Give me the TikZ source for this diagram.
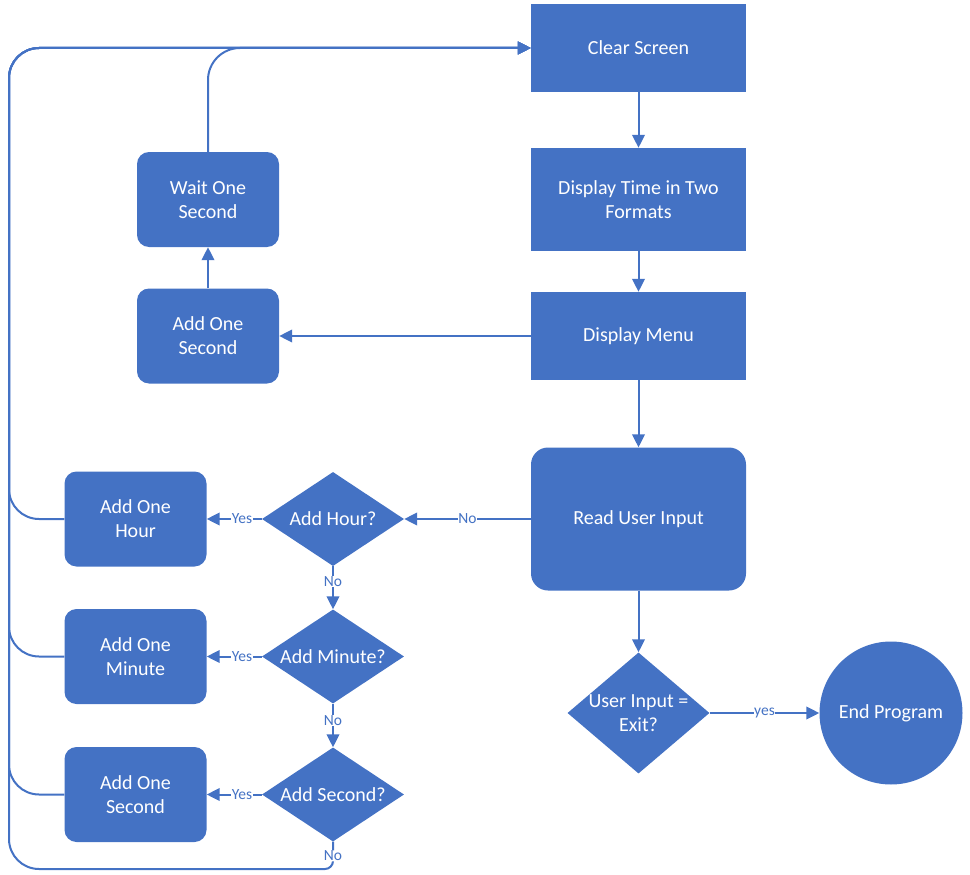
\documentclass[tikz,border=0pt]{standalone}
\usepackage{fontspec}
\setmainfont{Carlito}
\usetikzlibrary{shapes.geometric,arrows.meta}
\definecolor{ob}{HTML}{4472C4}
\begin{document}
\begin{tikzpicture}[x=1pt,y=-1pt,
  txt/.style={text=white, font=\fontsize{20}{24}\selectfont, align=center, inner sep=0pt},
  sbox/.style={txt, fill=ob, minimum width=215pt},
  rbox/.style={txt, fill=ob, rounded corners=12pt, minimum width=142pt, minimum height=95pt},
  dia/.style={diamond, fill=ob, inner sep=0pt, minimum width=142pt, minimum height=94pt},
  conn/.style={draw=ob, line width=2pt, -{Triangle[length=13pt,width=12.5pt]}},
  plain/.style={draw=ob, line width=2pt},
  lab/.style={fill=white, text=ob, font=\fontsize{15.5}{17}\selectfont, inner sep=0.5pt}
]
\useasboundingbox (0,0) rectangle (970,875);

% right column
\node[sbox, minimum height=88pt] (clear) at (638.5,48) {Clear Screen};
\node[sbox, minimum height=103pt] (dtime) at (638.5,199.5) {Display Time in Two\\Formats};
\node[sbox, minimum height=88pt] (menu) at (638.5,336) {Display Menu};
\node[sbox, rounded corners=17pt, minimum height=143pt] (read) at (638.5,519) {Read User Input};
\node[dia, minimum height=121pt] (exitq) at (638.5,713) {};
\node[txt] (exitqt) at (exitq) {User Input =\\Exit?};
\node[circle, fill=ob, minimum size=143pt, inner sep=0pt, txt] (endp) at (891,713) {End Program};

% upper left
\node[rbox] (wait) at (208,199.5) {Wait One\\Second};
\node[rbox] (aos1) at (208,336) {Add One\\Second};

% lower left
\node[rbox] (aoh) at (135.5,519) {Add One\\Hour};
\node[rbox] (aom) at (135.5,656.5) {Add One\\Minute};
\node[rbox] (aos2) at (135.5,794.5) {Add One\\Second};
\node[dia] (dh) at (333,519) {};
\node[txt] (dht) at (dh) {Add Hour?};
\node[dia] (dm) at (333,656.5) {};
\node[txt] (dmt) at (dm) {Add Minute?};
\node[dia] (ds) at (333,794.5) {};
\node[txt] (dst) at (ds) {Add Second?};

% loop coordinates
\coordinate (lx) at (9,48);
\coordinate (by) at (200,869);

% main connectors
\draw[conn] (clear) -- (dtime);
\draw[conn] (dtime) -- (menu);
\draw[conn] (menu) -- (read);
\draw[conn] (menu) -- (aos1);
\draw[conn] (aos1) -- (wait);
\draw[conn] (read) -- node[lab]{No} (dh);
\draw[conn] (dh) -- node[lab,pos=0.36]{Yes} (aoh);
\draw[conn] (dm) -- node[lab,pos=0.36]{Yes} (aom);
\draw[conn] (ds) -- node[lab,pos=0.36]{Yes} (aos2);
\draw[conn] (dh) -- node[lab,pos=0.35]{No} (dm);
\draw[conn] (dm) -- node[lab,pos=0.38]{No} (ds);
\draw[conn] (read) -- (exitq);
\draw[conn] (exitq) -- node[lab]{yes} (endp);

% loop backs
\draw[conn, rounded corners=32pt] (wait.north) |- (clear.west);
\draw[conn, rounded corners=30pt] (aoh.west) -| (lx) -- (clear.west);
\draw[conn, rounded corners=30pt] (aom.west) -| (lx) -- (clear.west);
\draw[conn, rounded corners=30pt] (aos2.west) -| (lx) -- (clear.west);
\draw[plain, rounded corners=8pt] (ds.south) |- node[lab,pos=0.26]{No} (by);
\draw[conn, rounded corners=30pt] (by) -| (lx) -- (clear.west);
\end{tikzpicture}
\end{document}
